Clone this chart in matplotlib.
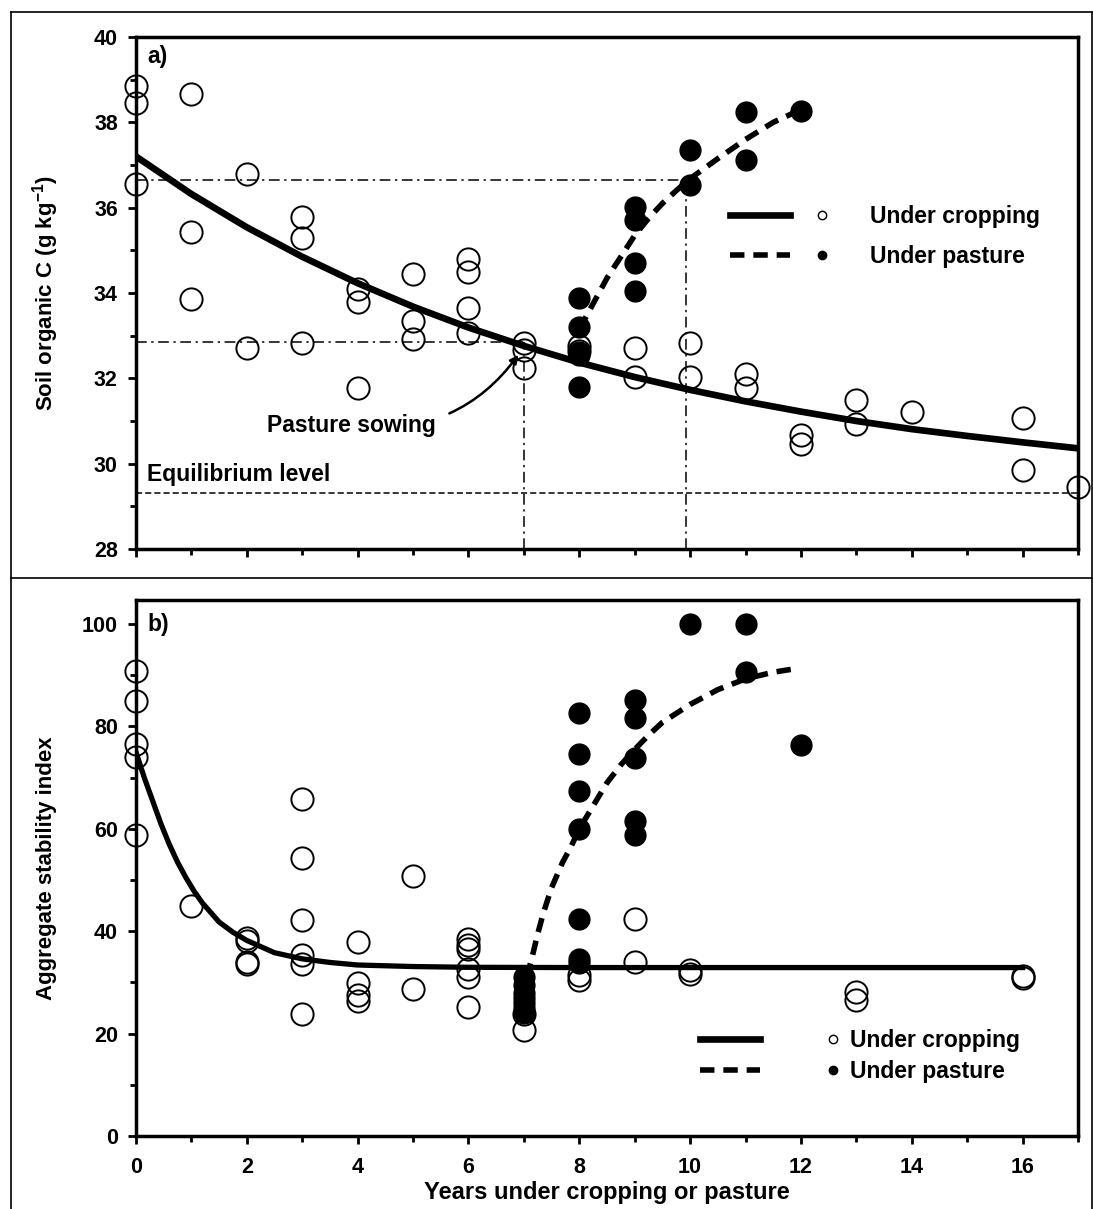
import matplotlib
matplotlib.use("Agg")
import matplotlib.pyplot as plt
from matplotlib.lines import Line2D
from matplotlib.ticker import MultipleLocator

plt.rcParams['font.family'] = ['Liberation Sans', 'DejaVu Sans']
plt.rcParams['font.weight'] = 'bold'
plt.rcParams['mathtext.fontset'] = 'custom'
plt.rcParams['mathtext.rm'] = 'Liberation Sans:bold'
plt.rcParams['mathtext.bf'] = 'Liberation Sans:bold'
plt.rcParams['mathtext.default'] = 'bf'

# ---- panel a: soil organic C (g/kg) ----
a_crop_x = [0, 0, 0, 1, 1, 1, 2, 2, 3, 3, 3, 4, 4, 4, 5, 5, 5, 6, 6, 6, 6,
            7, 7, 7, 8, 8, 9, 9, 10, 10, 11, 11, 12, 12, 13, 13, 14, 16, 16, 17]
a_crop_y = [38.85, 38.45, 36.55, 38.67, 35.43, 33.87, 36.8, 32.7, 35.77, 35.3, 32.82,
            34.1, 33.8, 31.77, 34.45, 33.35, 32.92, 34.8, 34.5, 33.64, 33.06,
            32.82, 32.66, 32.24, 32.75, 32.65, 32.7, 32.02, 32.82, 32.02, 32.1, 31.77,
            30.67, 30.46, 31.5, 30.92, 31.2, 31.08, 29.85, 29.45]
a_past_x = [8, 8, 8, 8, 8, 9, 9, 9, 9, 10, 10, 11, 11, 12]
a_past_y = [33.88, 33.2, 32.62, 32.55, 31.8, 36.02, 35.71, 34.7, 34.05,
            37.35, 36.53, 38.25, 37.12, 38.27]

a_crop_fit_x = list(range(0, 18))
a_crop_fit_y = [37.2, 36.32, 35.54, 34.85, 34.23, 33.68, 33.19, 32.76, 32.37,
                32.03, 31.73, 31.46, 31.22, 31.0, 30.81, 30.65, 30.5, 30.36]
a_past_fit_x = [8.0, 8.25, 8.5, 8.75, 9.0, 9.25, 9.5, 9.75, 10.0, 10.5, 11.0, 11.5, 12.0]
a_past_fit_y = [33.15, 33.75, 34.35, 34.85, 35.35, 35.75, 36.1, 36.4, 36.68,
                37.15, 37.6, 38.0, 38.3]

equilibrium = 29.32
sowing_year, sowing_c = 7.0, 32.84
recovery_year, recovery_c = 9.93, 36.65

# ---- panel b: aggregate stability index ----
b_crop_x = [0, 0, 0, 0, 0, 1, 2, 2, 2, 2, 3, 3, 3, 3, 3, 3, 4, 4, 4, 4, 5, 5,
            6, 6, 6, 6, 6, 6, 7, 7, 8, 8, 9, 9, 10, 10, 13, 13, 16, 16]
b_crop_y = [90.8, 84.9, 76.5, 74.0, 58.8, 45.0, 38.6, 38.0, 34.0, 33.5,
            65.8, 54.3, 42.1, 35.3, 33.5, 23.8, 37.9, 29.9, 27.6, 26.3, 50.7, 28.8,
            38.4, 37.4, 36.6, 32.6, 31.0, 25.1, 23.8, 20.7, 31.5, 30.4, 42.3, 34.0,
            32.5, 31.6, 28.1, 26.6, 31.2, 30.8]
b_past_x = [7, 7, 7, 7, 7, 7, 7, 8, 8, 8, 8, 8, 8, 8, 9, 9, 9, 9, 9, 10, 11, 11, 12]
b_past_y = [31.0, 29.5, 28.0, 27.0, 26.0, 25.0, 24.0,
            82.7, 74.7, 67.4, 59.9, 42.3, 34.6, 33.8,
            85.2, 81.7, 73.8, 61.5, 58.7, 100.0, 100.0, 90.7, 76.4]

b_crop_fit_x = [0, 0.15, 0.3, 0.45, 0.6, 0.75, 0.9, 1.05, 1.2, 1.5, 1.75, 2.0,
                2.5, 3.0, 3.5, 4.0, 5.0, 6.0, 8.0, 16.0]
b_crop_fit_y = [75, 70, 65.5, 61, 57, 53.5, 50.5, 47.8, 45.5, 41.8, 39.8, 38.2,
                35.8, 34.6, 33.9, 33.4, 33.1, 32.95, 32.9, 32.9]
b_past_fit_x = [7.05, 7.15, 7.25, 7.35, 7.5, 7.7, 7.85, 8.0, 8.25, 8.5, 8.75,
                9.0, 9.25, 9.5, 10.0, 10.5, 11.0, 11.5, 11.85]
b_past_fit_y = [31, 35, 39.5, 43.5, 48.5, 53.5, 56.5, 60, 64.5, 69, 72.5,
                75.5, 78.3, 80.8, 84.3, 87.2, 89.3, 90.6, 91.2]

fs = 15.5       # tick labels
lfs = 16.5      # legend / annotations
dash = (0, (2.6, 1.6))
dashdot = (0, (7, 3, 1.5, 3))

fig = plt.figure(figsize=(10.93, 12.09), dpi=100)
ax1 = fig.add_axes([0.1244, 0.5459, 0.8619, 0.4235])
ax2 = fig.add_axes([0.1244, 0.0604, 0.8619, 0.4433])


def style_axes(ax):
    for s in ax.spines.values():
        s.set_linewidth(2.5)
    ax.tick_params(which='major', direction='out', length=6, width=2, labelsize=fs, pad=7)
    ax.tick_params(which='minor', direction='out', length=4.5, width=2)
    ax.tick_params(axis='x', which='major', pad=9)
    ax.xaxis.set_major_locator(MultipleLocator(2))
    ax.xaxis.set_minor_locator(MultipleLocator(1))
    ax.set_xlim(0, 17)
    for lab in ax.get_xticklabels() + ax.get_yticklabels():
        lab.set_fontweight('bold')


# panel a
style_axes(ax1)
ax1.set_ylim(28, 40)
ax1.yaxis.set_major_locator(MultipleLocator(2))
ax1.yaxis.set_minor_locator(MultipleLocator(1))
ax1.tick_params(axis='x', which='both', labelbottom=False)

ax1.plot([0, recovery_year], [recovery_c, recovery_c], color='k', lw=1.1, ls=dashdot)
ax1.plot([recovery_year, recovery_year], [28, recovery_c], color='k', lw=1.1, ls=dashdot)
ax1.plot([0, sowing_year], [sowing_c, sowing_c], color='k', lw=1.1, ls=dashdot)
ax1.plot([sowing_year, sowing_year], [28, sowing_c], color='k', lw=1.1, ls=dashdot)
ax1.axhline(equilibrium, color='k', lw=1.1, ls=(0, (4, 2)))

ax1.plot(a_crop_fit_x, a_crop_fit_y, color='k', lw=4.8, solid_capstyle='butt', zorder=3)
ax1.plot(a_past_fit_x, a_past_fit_y, color='k', lw=4.0, ls=dash, zorder=3)
ax1.plot(a_past_x, a_past_y, ls='none', marker='o', ms=15, mfc='k', mec='k',
         clip_on=False, zorder=4)
ax1.plot(a_crop_x, a_crop_y, ls='none', marker='o', ms=16, mfc='none', mec='k',
         mew=1.4, clip_on=False, zorder=5)

ax1.text(0.2, 39.55, 'a)', fontsize=lfs, fontweight='bold', va='center')
ax1.text(0.2, 29.75, 'Equilibrium level', fontsize=lfs, fontweight='bold', va='center')
ax1.annotate('Pasture sowing', xy=(6.9, 32.55), xytext=(5.42, 30.9),
             fontsize=lfs, fontweight='bold', ha='right', va='center',
             arrowprops=dict(arrowstyle='-|>', color='k', lw=1.8, mutation_scale=12,
                             shrinkA=8, shrinkB=0, connectionstyle='arc3,rad=0.3'))
ax1.set_ylabel('Soil organic C (g kg$^{-1}$)', fontsize=16, fontweight='bold')
ax1.yaxis.set_label_coords(-0.08, 0.5)

line_handles = [Line2D([], [], color='k', lw=4.8),
                Line2D([], [], color='k', lw=4.0, ls=dash)]
mark_handles = [Line2D([], [], ls='none', marker='o', ms=6, mfc='none', mec='k', mew=1),
                Line2D([], [], ls='none', marker='o', ms=6, mfc='k', mec='k')]
mark_labels = ['Under cropping', 'Under pasture']
legprop = {'weight': 'bold', 'size': lfs}

leg1 = ax1.legend(line_handles, [' ', ' '], loc='upper left', bbox_to_anchor=(0.6306, 0.6727),
                  frameon=False, borderpad=0, borderaxespad=0, handlelength=2.6,
                  labelspacing=0.75, prop=legprop)
ax1.add_artist(leg1)
ax1.legend(mark_handles, mark_labels, loc='upper left', bbox_to_anchor=(0.716, 0.6727),
           frameon=False, borderpad=0, borderaxespad=0, handlelength=1.0,
           handletextpad=1.6, labelspacing=0.75, prop=legprop)

# panel b
style_axes(ax2)
ax2.set_ylim(0, 104.7)
ax2.yaxis.set_major_locator(MultipleLocator(20))
ax2.yaxis.set_minor_locator(MultipleLocator(10))

ax2.plot(b_crop_fit_x, b_crop_fit_y, color='k', lw=3.8, zorder=3)
ax2.plot(b_past_fit_x, b_past_fit_y, color='k', lw=4.0, ls=dash, zorder=3)
ax2.plot(b_past_x, b_past_y, ls='none', marker='o', ms=15, mfc='k', mec='k',
         clip_on=False, zorder=4)
ax2.plot(b_crop_x, b_crop_y, ls='none', marker='o', ms=16, mfc='none', mec='k',
         mew=1.4, clip_on=False, zorder=5)

ax2.text(0.2, 100, 'b)', fontsize=lfs, fontweight='bold', va='center')
ax2.set_ylabel('Aggregate stability index', fontsize=16, fontweight='bold')
ax2.yaxis.set_label_coords(-0.084, 0.5)
ax2.set_xlabel('Years under cropping or pasture', fontsize=17, fontweight='bold', labelpad=2)

leg2 = ax2.legend(line_handles, [' ', ' '], loc='upper left', bbox_to_anchor=(0.599, 0.2004),
                  frameon=False, borderpad=0, borderaxespad=0, handlelength=2.6,
                  labelspacing=0.36, prop=legprop)
ax2.add_artist(leg2)
ax2.legend(mark_handles, mark_labels, loc='upper left', bbox_to_anchor=(0.7277, 0.2004),
           frameon=False, borderpad=0, borderaxespad=0, handlelength=1.0,
           handletextpad=0.24, labelspacing=0.36, prop=legprop)

# outer frame and separator
for xs, ys in [([0.010, 0.010], [0.0, 0.990]), ([0.010, 0.999], [0.990, 0.990]),
               ([0.999, 0.999], [0.0, 0.990]), ([0.010, 0.999], [0.522, 0.522])]:
    fig.add_artist(Line2D(xs, ys, transform=fig.transFigure, color='k', lw=1.2))

fig.savefig('out.png', dpi=100)
